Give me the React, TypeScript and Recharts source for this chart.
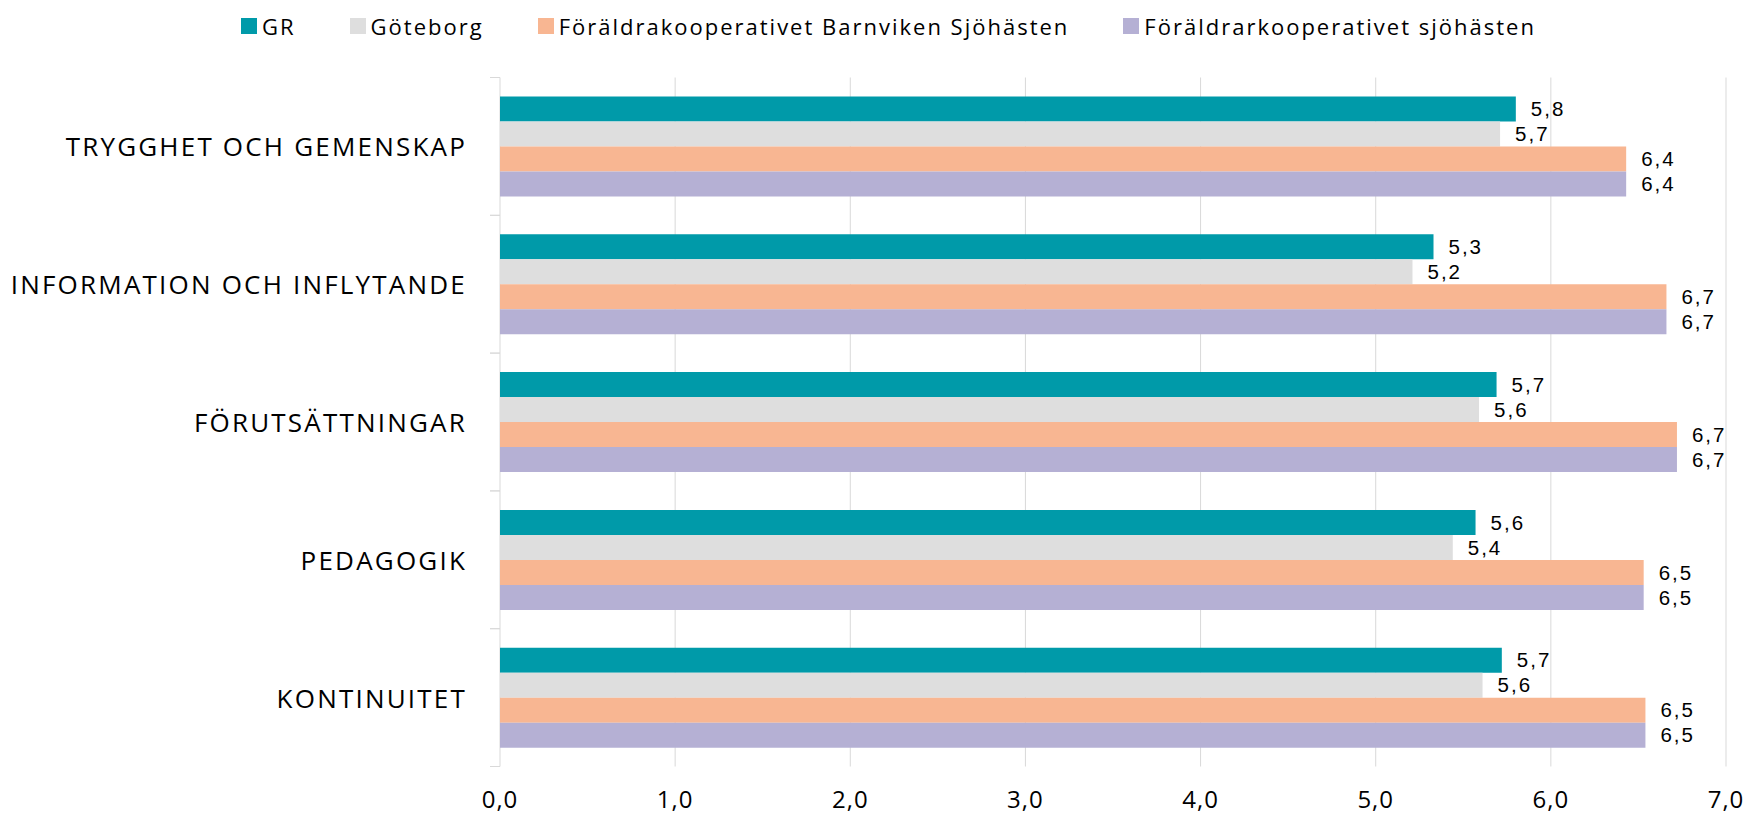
import React from 'react';
import { BarChart, Bar, XAxis, YAxis, CartesianGrid, LabelList, Legend } from 'recharts';

const categories = [
  'TRYGGHET OCH GEMENSKAP',
  'INFORMATION OCH INFLYTANDE',
  'FÖRUTSÄTTNINGAR',
  'PEDAGOGIK',
  'KONTINUITET',
];
const seriesNames = [
  'GR',
  'Göteborg',
  'Föräldrakooperativet Barnviken Sjöhästen',
  'Föräldrarkooperativet sjöhästen',
];
const grValues = [5.8, 5.33, 5.69, 5.57, 5.72];
const goteborgValues = [5.71, 5.21, 5.59, 5.44, 5.61];
const barnvikenValues = [6.43, 6.66, 6.72, 6.53, 6.54];
const sjohastenValues = [6.43, 6.66, 6.72, 6.53, 6.54];
const xTicks = [0, 1, 2, 3, 4, 5, 6, 7];
const colors = ['#009AA9', '#DEDEDE', '#F8B692', '#B5B0D4'];

const keys = ['gr', 'gbg', 'bv', 'sj'];
const data = categories.map((name, i) => ({
  name,
  gr: grValues[i],
  gbg: goteborgValues[i],
  bv: barnvikenValues[i],
  sj: sjohastenValues[i],
}));

const fmt = (v: any) => Number(v).toFixed(1).replace('.', ',');

const TICK_MARGIN = 33;

const CategoryTick = (props: any) => {
  const { x, y, payload } = props;
  const off = payload && payload.offset ? payload.offset : 0;
  const ax = x + TICK_MARGIN;
  return (
    <g>
      <line x1={ax - 10} x2={ax} y1={y - off} y2={y - off} stroke="#D9D9D9" />
      <line x1={ax - 10} x2={ax} y1={y + off} y2={y + off} stroke="#D9D9D9" />
      <text
        x={x}
        y={y}
        textAnchor="end"
        dominantBaseline="central"
        fontFamily="Open Sans"
        fontSize={26}
        letterSpacing={2.2}
        fill="#000"
      >
        {payload.value}
      </text>
    </g>
  );
};

const LegendContent = (props: any) => {
  const payload = [...(props.payload || [])].sort(
    (a: any, b: any) => seriesNames.indexOf(a.value) - seriesNames.indexOf(b.value)
  );
  return (
    <div style={{ display: 'flex', alignItems: 'center', height: 30, fontFamily: 'Open Sans', fontSize: 22, letterSpacing: 2, color: '#000', whiteSpace: 'nowrap' }}>
      {payload.map((p: any, i: number) => (
        <div key={i} style={{ display: 'flex', alignItems: 'center', marginRight: 54 }}>
          <div style={{ width: 16, height: 16, background: p.color, marginRight: 5 }} />
          <span>{p.value}</span>
        </div>
      ))}
    </div>
  );
};

export default function App() {
  return (
    <div style={{ position: 'absolute', left: 0, top: 0, width: 1746, height: 814, background: '#fff' }}>
      <BarChart
        width={1746}
        height={814}
        data={data}
        layout="vertical"
        margin={{ top: 47.5, right: 20, bottom: 7.5, left: 0 }}
        barCategoryGap={19}
        barGap={0}
      >
        <CartesianGrid horizontal={false} stroke="#D9D9D9" />
        <XAxis
          type="number"
          domain={[0, 7]}
          ticks={xTicks}
          tickFormatter={fmt}
          axisLine={false}
          tickLine={false}
          tickSize={0}
          tickMargin={24}
          height={40}
          interval={0}
          tick={{ fontFamily: 'Open Sans', fontSize: 24, fill: '#000', letterSpacing: 1 }}
        />
        <YAxis
          type="category"
          dataKey="name"
          width={500}
          axisLine={false}
          tickLine={false}
          tickSize={0}
          tickMargin={TICK_MARGIN}
          interval={0}
          tick={<CategoryTick />}
        />
        <Legend
          verticalAlign="top"
          align="left"
          content={<LegendContent />}
          wrapperStyle={{ top: 11, left: 241, width: 1500, height: 30 }}
        />
        {keys.map((k, i) => (
          <Bar key={k} dataKey={k} name={seriesNames[i]} fill={colors[i]} isAnimationActive={false}>
            <LabelList
              dataKey={k}
              position="right"
              offset={15}
              formatter={fmt}
              style={{ fontFamily: 'Liberation Sans', fontSize: 20.5, fill: '#000', letterSpacing: 2 }}
            />
          </Bar>
        ))}
      </BarChart>
    </div>
  );
}
